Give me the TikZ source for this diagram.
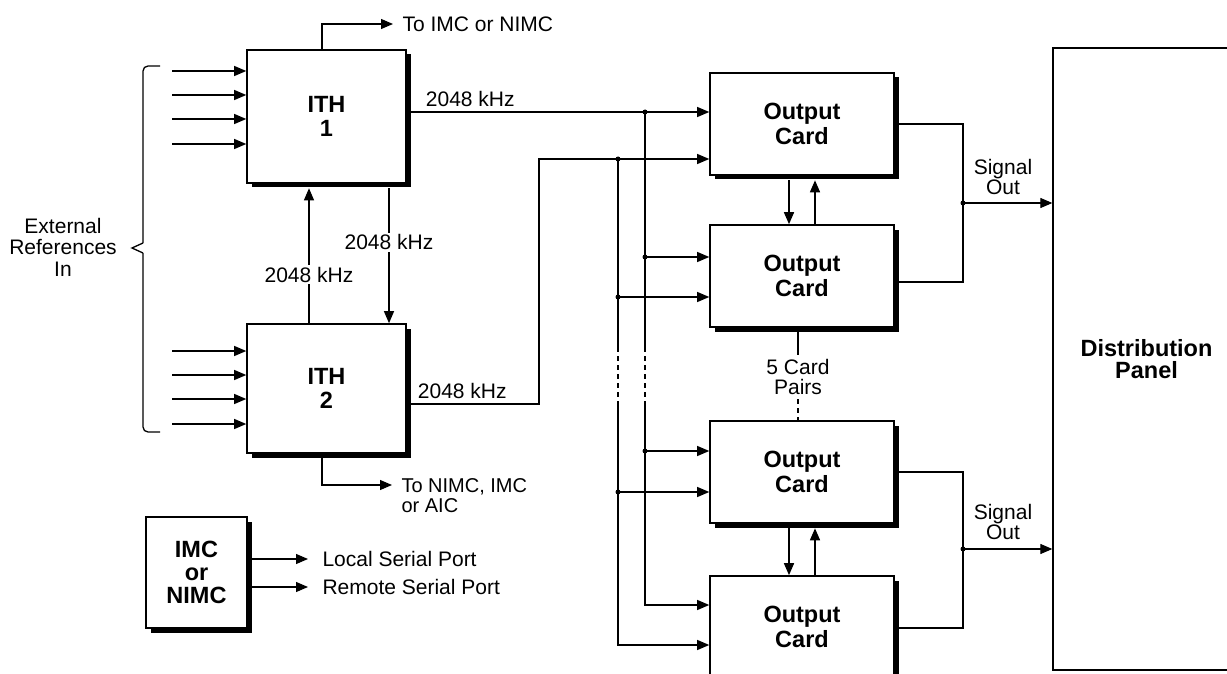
\documentclass[tikz,border=0pt]{standalone}
\usepackage{fontspec}
\setmainfont{Liberation Sans}
\usetikzlibrary{arrows.meta,shadows,calc}
\begin{document}
\begin{tikzpicture}[x=1pt,y=-1pt,line width=1.1pt,
  arr/.style={-{Triangle[length=12pt,width=10pt]}},
  thick arr/.style={arr,line width=1.5pt},
  box/.style={draw,line width=1.6pt,fill=white,
    drop shadow={shadow xshift=4.5pt,shadow yshift=-4.5pt,fill=black,opacity=1},
    font=\fontsize{23.5}{24.5}\selectfont\bfseries,align=center,inner sep=0pt},
  cardbox/.style={box,minimum width=184pt,minimum height=102pt},
  lbl/.style={font=\fontsize{21}{20}\selectfont,inner sep=0pt},
  cut/.style={lbl,fill=white,inner sep=2pt},
  dot/.style={radius=2.5pt},
  busdash/.style={dash pattern=on 5pt off 4pt}]
\useasboundingbox (0,0) rectangle (1227,674);

% ---- boxes
\node[box,minimum width=159pt,minimum height=133pt] (ith1) at (326.5,116.5) {ITH\\1};
\node[box,minimum width=159pt,minimum height=129pt] (ith2) at (326.5,388.5) {ITH\\2};
\node[box,minimum width=101pt,minimum height=111pt,font=\fontsize{23.5}{23}\selectfont\bfseries] (imc) at (196.5,572.5) {IMC\\or\\NIMC};
\node[cardbox] (card1) at (802,124) {Output\\Card};
\node[cardbox] (card2) at (802,276) {Output\\Card};
\node[cardbox] (card3) at (802,472) {Output\\Card};
\node[cardbox] (card4) at (802,627) {Output\\Card};
\node[draw,line width=1.3pt,minimum width=187pt,minimum height=622pt,
  font=\fontsize{23.5}{22.5}\selectfont\bfseries,align=center] (panel) at (1146.5,359) {Distribution\\Panel};

% ---- external reference inputs
\foreach \y [count=\i] in {71,95,119,144} {
  \coordinate (ia\i) at (172,\y);
  \draw[arr] (ia\i) -- (ia\i -| ith1.west);
}
\foreach \y [count=\i] in {351,375,399,424} {
  \coordinate (ib\i) at (172,\y);
  \draw[arr] (ib\i) -- (ib\i -| ith2.west);
}
% brace
\draw[line width=1.3pt,rounded corners=5pt] (160,66) -- (143,66) -- (143,243);
\draw[line width=1.3pt] (143,243) -- (132,248) -- (143,253);
\draw[line width=1.3pt,rounded corners=5pt] (143,253) -- (143,432) -- (160,432);
\node[lbl,align=center,font=\fontsize{21}{21.5}\selectfont] (ext) at (63,247) {External\\References\\In};

% ---- ITH1 top output
\coordinate (toA) at (393,24);
\draw[arr] ([xshift=-4.5pt]ith1.north) |- (toA);
\node[lbl,anchor=base west] (toimc) at (402,31.5) {To IMC or NIMC};

% ---- ITH2 bottom output
\coordinate (toB) at (392,485);
\draw[arr] ([xshift=-4.5pt]ith2.south) |- (toB);
\node[lbl,anchor=north west,align=left,font=\fontsize{20}{20}\selectfont] (tonimc) at (401,478) {To NIMC, IMC\\or AIC};

% ---- ITH1 <-> ITH2
\draw[arr] ([xshift=-17.5pt]ith2.north) -- node[cut,pos=0.36] {2048 kHz} ([xshift=-17.5pt,yshift=-4.5pt]ith1.south);
\draw[arr] ([xshift=62.5pt,yshift=-4.5pt]ith1.south) -- node[cut,pos=0.40] {2048 kHz} ([xshift=62.5pt]ith2.north);

% ---- card inputs
\coordinate (c1a) at ([yshift=12pt]card1.west);
\coordinate (c1b) at ([yshift=-35pt]card1.west);
\coordinate (c2a) at ([yshift=19pt]card2.west);
\coordinate (c2b) at ([yshift=-21pt]card2.west);
\coordinate (c3a) at ([yshift=21pt]card3.west);
\coordinate (c3b) at ([yshift=-20pt]card3.west);
\coordinate (c4a) at ([yshift=22pt]card4.west);
\coordinate (c4b) at ([yshift=-18pt]card4.west);
\coordinate (xA) at (645,0);
\coordinate (xB) at (618,0);
\coordinate (dA1) at (645,347);
\coordinate (dA2) at (645,403);
\coordinate (dB1) at (618,347);
\coordinate (dB2) at (618,403);
\coordinate (j2) at (539,159);

\draw[arr] (ith1.east |- c1a) -- node[lbl,above=5pt,pos=0.21] {2048 kHz} (c1a);
\draw[arr] ([yshift=-15.5pt]ith2.east) -| node[lbl,above=5pt,pos=0.21] {2048 kHz} (j2) -- (c1b);

\draw (c1a -| xA) -- (dA1);
\draw[busdash] (dA1) -- (dA2);
\draw[arr] (dA2) |- (c4a);
\draw[arr] (c2a -| xA) -- (c2a);
\draw[arr] (c3a -| xA) -- (c3a);

\draw (c1b -| xB) -- (dB1);
\draw[busdash] (dB1) -- (dB2);
\draw[arr] (dB2) |- (c4b);
\draw[arr] (c2b -| xB) -- (c2b);
\draw[arr] (c3b -| xB) -- (c3b);

\fill (c1a -| xA) circle[dot];
\fill (c2a -| xA) circle[dot];
\fill (c3a -| xA) circle[dot];
\fill (c1b -| xB) circle[dot];
\fill (c2b -| xB) circle[dot];
\fill (c3b -| xB) circle[dot];

% ---- card pairs
\draw[thick arr] ([xshift=-13pt,yshift=-4.5pt]card1.south) -- ([xshift=-13pt]card2.north);
\draw[thick arr] ([xshift=13pt]card2.north) -- ([xshift=13pt,yshift=-4.5pt]card1.south);
\draw[thick arr] ([xshift=-13pt,yshift=-4.5pt]card3.south) -- ([xshift=-13pt]card4.north);
\draw[thick arr] ([xshift=13pt]card4.north) -- ([xshift=13pt,yshift=-4.5pt]card3.south);

\node[lbl,align=center,inner sep=4pt] (pairs) at (798,377) {5 Card\\Pairs};
\draw ([xshift=-4pt,yshift=-4.5pt]card2.south) -- (pairs.north);
\draw[busdash] (pairs.south) -- ([xshift=-4pt]card3.north);

% ---- signal outputs
\coordinate (s1) at (963,203);
\coordinate (s2) at (963,549);
\draw (card1.east) -| (s1) |- ([yshift=-6pt]card2.east);
\draw (card3.east) -| (s2) |- ([yshift=-1pt]card4.east);
\fill (s1) circle[dot];
\fill (s2) circle[dot];
\draw[arr] (s1) -- (s1 -| panel.west);
\draw[arr] (s2) -- (s2 -| panel.west);
\node[lbl,align=center] (sig1) at (1003,177) {Signal\\Out};
\node[lbl,align=center] (sig2) at (1003,522) {Signal\\Out};

% ---- IMC serial ports
\coordinate (lspA) at (308,559);
\coordinate (rspA) at (308,587);
\draw[arr] (imc.east |- lspA) -- (lspA);
\draw[arr] (imc.east |- rspA) -- (rspA);
\node[lbl,anchor=base west] (lsp) at (322,566.5) {Local Serial Port};
\node[lbl,anchor=base west] (rsp) at (322,594.5) {Remote Serial Port};
\end{tikzpicture}
\end{document}
